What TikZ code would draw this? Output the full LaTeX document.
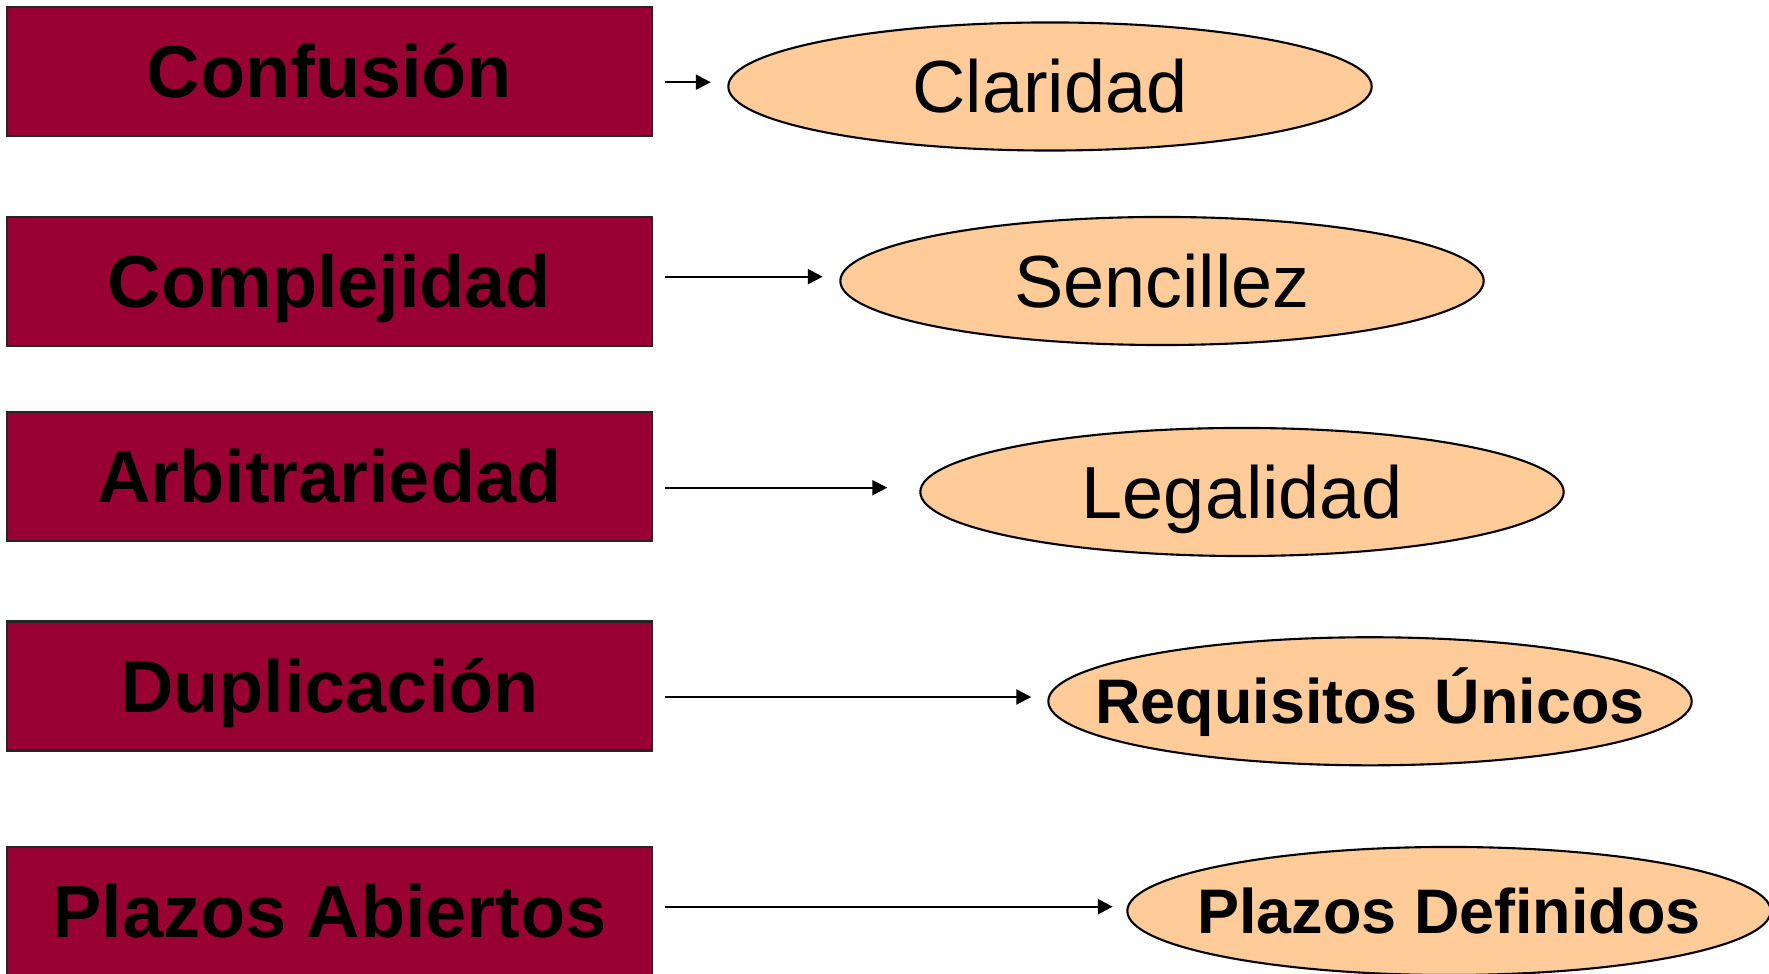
\documentclass[tikz,border=0pt]{standalone}
\usepackage{fontspec}
\setmainfont{Liberation Sans}
\usetikzlibrary{shapes.geometric,arrows.meta,calc}
\definecolor{boxred}{HTML}{990033}
\definecolor{ellfill}{HTML}{FFCC99}
\begin{document}
\begin{tikzpicture}[x=0.01cm,y=-0.01cm,
  probbox/.style={draw=black!85, line width=0.6pt, fill=boxred,
    minimum width=6.44cm, minimum height=1.29cm, inner sep=0pt,
    text height=15.04pt, text depth=0pt,
    font=\fontsize{21}{25}\selectfont\bfseries},
  solell/.style={ellipse, draw=black, line width=0.6pt, fill=ellfill,
    minimum width=6.43cm, minimum height=1.28cm, inner sep=0pt,
    text height=15.04pt, text depth=0pt,
    font=\fontsize{21}{25}\selectfont},
  solellb/.style={solell, text height=12.8pt,
    font=\fontsize{17.9}{22}\selectfont\bfseries},
  arr/.style={-{Triangle[length=0.15cm,width=0.15cm]}, line width=0.65pt}]
\useasboundingbox (0,0) rectangle (1769,974);
\clip (0,0) rectangle (1769,974);

\node[probbox] (b1) at (329.5,71.5) {Confusión};
\node[probbox] (b2) at (329.5,281.2) {Complejidad};
\node[probbox] (b3) at (329.5,476.4) {Arbitrariedad};
\node[probbox] (b4) at (329.5,686) {Duplicación};
\node[probbox] (b5) at (329.5,911.5) {Plazos Abiertos};

\node[solell] (e1) at (1050,86.5) {\makebox[0pt]{Claridad}};
\node[solell] (e2) at (1162,281) {\makebox[0pt]{Sencillez}};
\node[solell] (e3) at (1242,492) {\makebox[0pt]{Legalidad}};
\node[solellb] (e4) at (1370,701.3) {\makebox[0pt]{Requisitos Únicos}};
\node[solellb] (e5) at (1449,911) {\makebox[0pt]{Plazos Definidos}};

\draw[arr] ($(b1.east |- e1.west)+(12.5,-4.3)$) -- ($(e1.west)+(-16.5,-4.3)$);
\draw[arr] ($(b2.east |- e2.west)+(12.5,-4.3)$) -- ($(e2.west)+(-16.5,-4.3)$);
\draw[arr] ($(b3.east |- e3.west)+(12.5,-4.3)$) -- ($(e3.west)+(-32,-4.3)$);
\draw[arr] ($(b4.east |- e4.west)+(12.5,-4.3)$) -- ($(e4.west)+(-16,-4.3)$);
\draw[arr] ($(b5.east |- e5.west)+(12.5,-4.3)$) -- ($(e5.west)+(-13.5,-4.3)$);
\end{tikzpicture}
\end{document}
